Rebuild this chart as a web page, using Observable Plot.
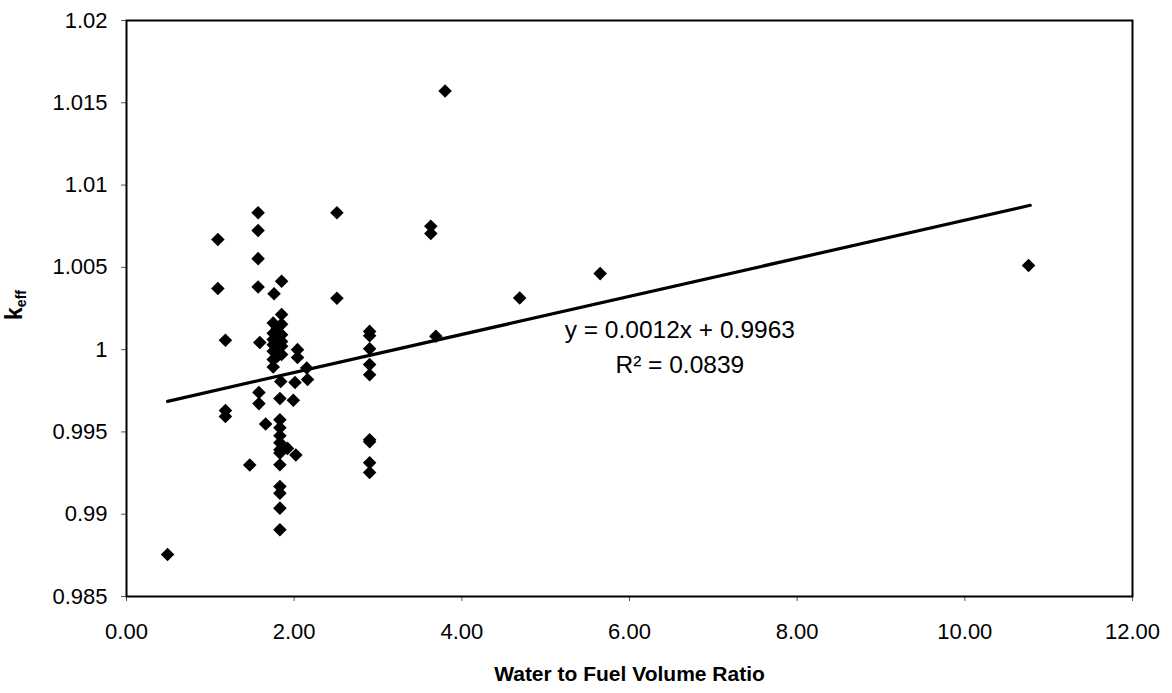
<!DOCTYPE html>
<html>
<head>
<meta charset="utf-8">
<script src="https://cdn.jsdelivr.net/npm/d3@7"></script>
<script src="https://cdn.jsdelivr.net/npm/@observablehq/plot@0.6"></script>
<style>
  html, body { margin: 0; padding: 0; background: white; }
</style>
</head>
<body>
<div id="chart"></div>
<script>
// Water to fuel volume ratio (x) and k_eff (y) for each case
const ratio = [
  0.49,
  1.09, 1.09,
  1.18, 1.18, 1.18,
  1.47,
  1.57, 1.57, 1.57, 1.57,
  1.59, 1.58, 1.58,
  1.66,
  1.76, 1.85, 1.85,
  1.75, 1.75, 1.75, 1.75, 1.75, 1.75, 1.75,
  1.80, 1.80, 1.80, 1.80,
  1.85, 1.85, 1.85, 1.85, 1.85,
  1.84, 1.83,
  1.83, 1.83, 1.83, 1.83, 1.83, 1.83, 1.83, 1.83, 1.83, 1.83, 1.83,
  1.92, 2.02, 1.99, 2.01,
  2.04, 2.04,
  2.15, 2.16,
  2.51, 2.51,
  2.90, 2.90, 2.90, 2.90, 2.90, 2.90, 2.90, 2.90, 2.90,
  3.63, 3.63,
  3.69,
  3.80,
  4.69,
  5.65,
  10.76
];
const keff = [
  0.98755,
  1.00669, 1.00371,
  1.00057, 0.99630, 0.99594,
  0.99299,
  1.00832, 1.00724, 1.00553, 1.00381,
  1.00044, 0.99740, 0.99672,
  0.99548,
  1.00339, 1.00416, 1.00213,
  1.00162, 1.00100, 1.00061, 1.00030, 0.99990, 0.99940, 0.99895,
  1.00130, 1.00070, 1.00005, 0.99960,
  1.00155, 1.00090, 1.00050, 1.00020, 0.99970,
  0.99807, 0.99703,
  0.99574, 0.99526, 0.99477, 0.99434, 0.99392, 0.99372, 0.99301, 0.99168, 0.99128, 0.99037, 0.98905,
  0.99400, 0.99360, 0.99692, 0.99800,
  1.00000, 0.99952,
  0.99889, 0.99818,
  1.00832, 1.00312,
  1.00111, 1.00085, 1.00005, 0.99909, 0.99848, 0.99453, 0.99440, 0.99313, 0.99253,
  1.00750, 1.00706,
  1.00081,
  1.01571,
  1.00314,
  1.00462,
  1.00511
];

// Linear trend line endpoints (as drawn)
const trendX = [0.49, 10.78];
const trendY = [0.99686, 1.00877];

// Trend equation annotation
const noteX = [6.6, 6.6];
const noteY = [1.00118, 0.99905];
const noteText = ["y = 0.0012x + 0.9963", "R\u00B2 = 0.0839"];

// Axes
const xTicks = [0, 2, 4, 6, 8, 10, 12];
const xTickLabels = ["0.00", "2.00", "4.00", "6.00", "8.00", "10.00", "12.00"];
const yTicks = [0.985, 0.99, 0.995, 1, 1.005, 1.01, 1.015, 1.02];
const yTickLabels = ["0.985", "0.99", "0.995", "1", "1.005", "1.01", "1.015", "1.02"];
const xTitle = "Water to Fuel Volume Ratio";

const points = ratio.map((x, i) => ({x, y: keff[i]}));
const trend = trendX.map((x, i) => ({x, y: trendY[i]}));
const notes = noteX.map((x, i) => ({x, y: noteY[i], t: noteText[i]}));

const FONT = "'Liberation Sans', Arial, sans-serif";

const plot = Plot.plot({
  width: 1172,
  height: 693,
  marginLeft: 126,
  marginRight: 40,
  marginTop: 20,
  marginBottom: 97,
  style: {fontFamily: FONT, fontSize: "22px", background: "white", color: "black", overflow: "visible"},
  x: {domain: [0, 12]},
  y: {domain: [0.985, 1.02]},
  marks: [
    Plot.axisX({
      ticks: xTicks,
      tickFormat: (d, i) => xTickLabels[xTicks.indexOf(d)],
      tickSize: 5,
      tickPadding: 22,
      stroke: "#555",
      strokeWidth: 1,
      fontSize: 22,
      label: null
    }),
    Plot.axisY({
      ticks: yTicks,
      tickFormat: (d) => yTickLabels[yTicks.findIndex(v => Math.abs(v - d) < 1e-9)],
      tickSize: 5,
      tickPadding: 14,
      stroke: "#555",
      strokeWidth: 1,
      fontSize: 22,
      label: null
    }),
    Plot.frame({stroke: "black", strokeWidth: 2}),
    Plot.line(trend, {x: "x", y: "y", stroke: "black", strokeWidth: 3.2}),
    Plot.dot(points, {x: "x", y: "y", symbol: "diamond2", r: 6.1, fill: "black", stroke: null}),
    Plot.text(notes, {x: "x", y: "y", text: "t", fontSize: 24.5, fill: "black", textAnchor: "middle", lineAnchor: "middle"}),
    Plot.text([xTitle], {frameAnchor: "bottom", dy: 78, text: d => d, fontSize: 21, fontWeight: "bold", fill: "black", lineAnchor: "middle"})
  ]
});

// Y axis title with subscript
const svg = d3.select(plot);
const yl = svg.append("text")
  .attr("transform", "translate(22,305) rotate(-90)")
  .attr("text-anchor", "middle")
  .attr("font-family", FONT)
  .attr("font-weight", "bold")
  .attr("font-size", 23)
  .attr("fill", "black");
yl.append("tspan").text("k");
yl.append("tspan").attr("font-size", 14).attr("dy", 4).text("eff");

document.getElementById("chart").appendChild(plot);
</script>
</body>
</html>
